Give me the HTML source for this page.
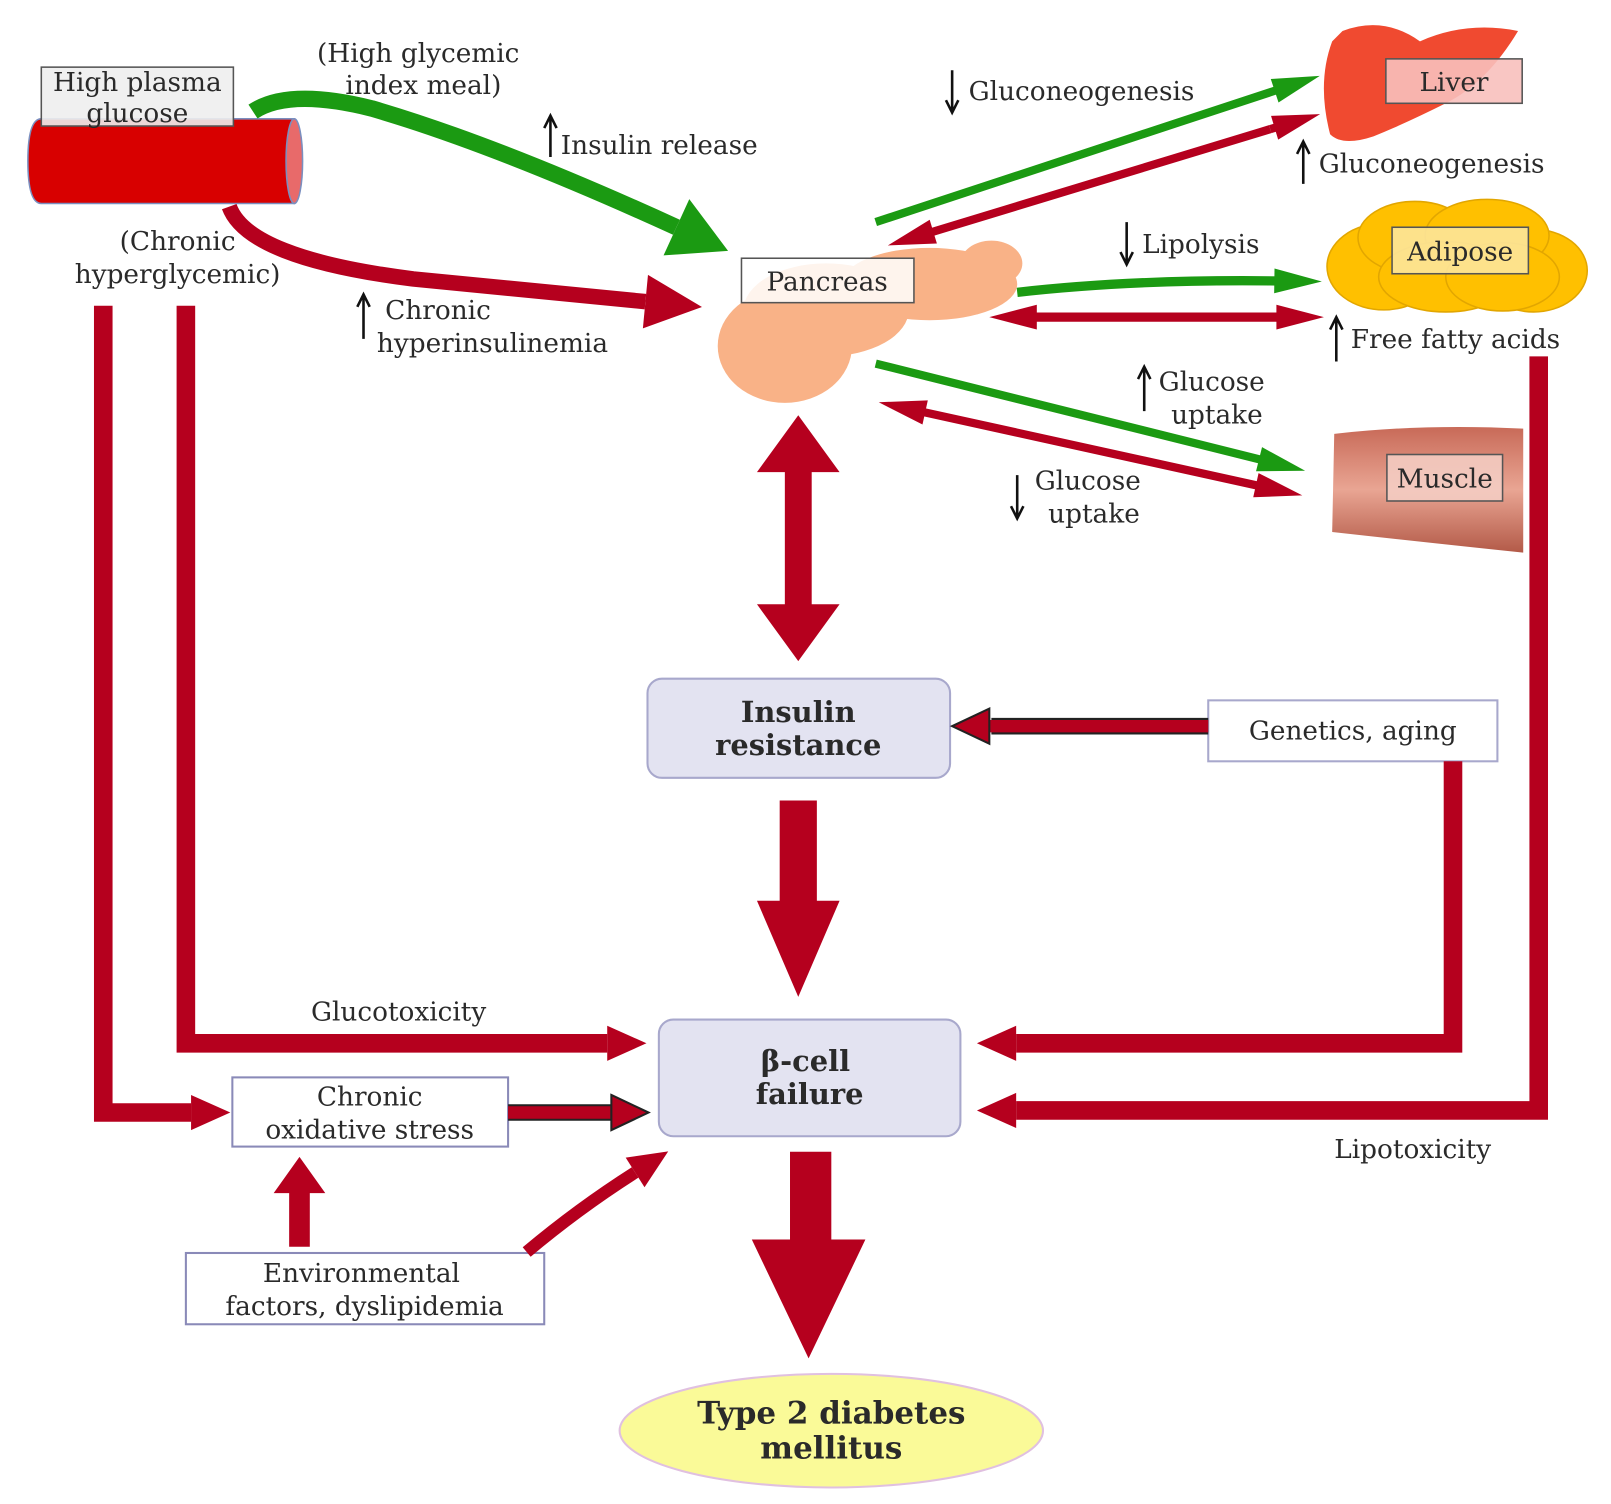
<!DOCTYPE html>
<html><head><meta charset="utf-8"><style>
html,body{margin:0;padding:0;background:#fff;}
svg{display:block;}
text{font-family:"DejaVu Serif","Liberation Serif",serif;fill:#2a2a2a;font-size:25.5px;}
</style></head><body>
<svg width="1611" height="1504" viewBox="0 0 1560 1456" preserveAspectRatio="none" xmlns="http://www.w3.org/2000/svg">
<defs>
<marker id="gBig" markerUnits="userSpaceOnUse" markerWidth="10" markerHeight="10" orient="auto" overflow="visible"><path d="M0,-30 L55,0 L0,30 z" fill="#1b9a12"/></marker>
<marker id="rBig" markerUnits="userSpaceOnUse" markerWidth="10" markerHeight="10" orient="auto" overflow="visible"><path d="M0,-26 L55,0 L0,26 z" fill="#b5001e"/></marker>
<marker id="gS" markerUnits="userSpaceOnUse" markerWidth="10" markerHeight="10" orient="auto" overflow="visible"><path d="M-6,-12 L40,0 L-6,12 z" fill="#1b9a12"/></marker>
<marker id="rS" markerUnits="userSpaceOnUse" markerWidth="10" markerHeight="10" orient="auto-start-reverse" overflow="visible"><path d="M-6,-12 L40,0 L-6,12 z" fill="#b5001e"/></marker>
<marker id="rM" markerUnits="userSpaceOnUse" markerWidth="10" markerHeight="10" orient="auto" overflow="visible"><path d="M0,-17 L38,0 L0,17 z" fill="#b5001e"/></marker>
<marker id="rO" markerUnits="userSpaceOnUse" markerWidth="10" markerHeight="10" orient="auto" overflow="visible"><path d="M0,-17 L36,0 L0,17 z" fill="#b5001e" stroke="#222" stroke-width="2"/></marker>
<linearGradient id="mus" x1="0" y1="0" x2="0" y2="1"><stop offset="0" stop-color="#c86a58"/><stop offset="0.5" stop-color="#e9a593"/><stop offset="1" stop-color="#b35a48"/></linearGradient>
</defs>

<path d="M40,115 L285,115 L285,197 L40,197 Q27,197 27,156 Q27,115 40,115 z" fill="#d80000" stroke="#7a8fc0" stroke-width="1.5"/>
<ellipse cx="285" cy="156" rx="8" ry="41" fill="#e86a6a" stroke="#7a8fc0" stroke-width="1.5"/>
<rect x="40" y="65" width="186" height="57" fill="#eeeeee" fill-opacity="0.9" stroke="#555" stroke-width="1.5"/>
<text x="133" y="88" text-anchor="middle">High plasma</text>
<text x="133" y="118" text-anchor="middle">glucose</text>

<text x="405" y="60" text-anchor="middle">(High glycemic</text>
<text x="410" y="91" text-anchor="middle">index meal)</text>
<text x="172" y="242" text-anchor="middle">(Chronic</text>
<text x="172" y="274" text-anchor="middle">hyperglycemic)</text>

<path d="M245,108 Q280,85 360,105 Q480,140 655,220" fill="none" stroke="#1b9a12" stroke-width="16" marker-end="url(#gBig)"/>
<path d="M222,200 Q240,250 400,270 Q520,282 625,292" fill="none" stroke="#b5001e" stroke-width="15" marker-end="url(#rBig)"/>
<path d="M533,152 L533,115 M527,124 L533,112 L539,124" stroke="#111" stroke-width="2.5" fill="none"/>
<text x="543" y="149">Insulin release</text>
<path d="M352,328 L352,288 M346,297 L352,285 L358,297" stroke="#111" stroke-width="2.5" fill="none"/>
<text x="373" y="309">Chronic</text>
<text x="365" y="341">hyperinsulinemia</text>

<g fill="#f9b287">
<ellipse cx="760" cy="335" rx="65" ry="55"/>
<ellipse cx="800" cy="300" rx="80" ry="45"/>
<ellipse cx="900" cy="275" rx="85" ry="35"/>
<ellipse cx="960" cy="255" rx="30" ry="22"/>
</g>
<rect x="718" y="250" width="167" height="43" fill="#fff" fill-opacity="0.85" stroke="#555" stroke-width="1.5"/>
<text x="801" y="281" text-anchor="middle">Pancreas</text>

<path d="M1300,30 Q1340,15 1375,40 Q1420,20 1470,30 Q1440,80 1400,100 Q1360,120 1330,132 Q1300,142 1288,130 Q1275,80 1290,40 z" fill="#f04a30"/>
<rect x="1342" y="57" width="132" height="43" fill="#f8c0bc" fill-opacity="0.9" stroke="#555" stroke-width="1.5"/>
<text x="1408" y="88" text-anchor="middle">Liver</text>
<line x1="848" y1="215" x2="1240" y2="86" stroke="#1b9a12" stroke-width="8" marker-end="url(#gS)"/>
<line x1="1230" y1="125" x2="898" y2="226" stroke="#b5001e" stroke-width="8" marker-end="url(#rS)"/>
<line x1="1230" y1="125" x2="1240" y2="122" stroke="#b5001e" stroke-width="8" marker-end="url(#rS)"/>
<path d="M922,106 L922,68 M916,97 L922,109 L928,97" stroke="#111" stroke-width="2.5" fill="none"/>
<text x="938" y="97">Gluconeogenesis</text>
<path d="M1262,178 L1262,140 M1256,149 L1262,137 L1268,149" stroke="#111" stroke-width="2.5" fill="none"/>
<text x="1277" y="167">Gluconeogenesis</text>

<g fill="#ffc000" stroke="#e2a600" stroke-width="1.5">
<ellipse cx="1340" cy="258" rx="55" ry="42"/>
<ellipse cx="1485" cy="262" rx="52" ry="40"/>
<ellipse cx="1370" cy="230" rx="55" ry="35"/>
<ellipse cx="1440" cy="228" rx="60" ry="35"/>
<ellipse cx="1400" cy="268" rx="65" ry="34"/>
<ellipse cx="1455" cy="268" rx="55" ry="33"/>
</g>
<rect x="1348" y="220" width="132" height="45" fill="#fde59a" fill-opacity="0.9" stroke="#555" stroke-width="1.5"/>
<text x="1414" y="252" text-anchor="middle">Adipose</text>
<path d="M985,283 Q1100,270 1240,272" fill="none" stroke="#1b9a12" stroke-width="9" marker-end="url(#gS)"/>
<line x1="998" y1="307" x2="1242" y2="307" stroke="#b5001e" stroke-width="9" marker-start="url(#rS)" marker-end="url(#rS)"/>
<path d="M1091,253 L1091,215 M1085,244 L1091,256 L1097,244" stroke="#111" stroke-width="2.5" fill="none"/>
<text x="1106" y="245">Lipolysis</text>
<path d="M1294,350 L1294,310 M1288,319 L1294,307 L1300,319" stroke="#111" stroke-width="2.5" fill="none"/>
<text x="1308" y="337">Free fatty acids</text>

<path d="M1292,420 Q1380,410 1475,415 L1475,535 Q1380,525 1290,515 z" fill="url(#mus)"/>
<rect x="1343" y="440" width="112" height="45" fill="#f4cfc6" fill-opacity="0.85" stroke="#555" stroke-width="1.5"/>
<text x="1399" y="472" text-anchor="middle">Muscle</text>
<line x1="848" y1="352" x2="1225" y2="446" stroke="#1b9a12" stroke-width="8" marker-end="url(#gS)"/>
<line x1="890" y1="398" x2="1222" y2="471" stroke="#b5001e" stroke-width="8" marker-start="url(#rS)" marker-end="url(#rS)"/>
<path d="M1108,398 L1108,358 M1102,367 L1108,355 L1114,367" stroke="#111" stroke-width="2.5" fill="none"/>
<text x="1122" y="378">Glucose</text>
<text x="1134" y="410">uptake</text>
<path d="M985,500 L985,460 M979,490 L985,502 L991,490" stroke="#111" stroke-width="2.5" fill="none"/>
<text x="1002" y="474">Glucose</text>
<text x="1015" y="506">uptake</text>

<path d="M773,402 L813,457 L786,457 L786,585 L813,585 L773,640 L733,585 L760,585 L760,457 L733,457 z" fill="#b5001e"/>

<rect x="627" y="657" width="293" height="96" rx="14" fill="#e3e3f1" stroke="#a8a8cc" stroke-width="2"/>
<text x="773" y="699" font-weight="bold" text-anchor="middle" style="font-size:28px">Insulin</text>
<text x="773" y="731" font-weight="bold" text-anchor="middle" style="font-size:28px">resistance</text>

<rect x="1170" y="678" width="280" height="59" fill="#fff" stroke="#a8a8cc" stroke-width="2"/>
<text x="1310" y="716" text-anchor="middle">Genetics, aging</text>
<line x1="1170" y1="703" x2="960" y2="703" stroke="#222" stroke-width="16"/>
<line x1="1170" y1="703" x2="958" y2="703" stroke="#b5001e" stroke-width="12" marker-end="url(#rO)"/>

<path d="M755,775 L791,775 L791,872 L813,872 L773,965 L733,872 L755,872 z" fill="#b5001e"/>

<rect x="638" y="987" width="292" height="113" rx="14" fill="#e3e3f1" stroke="#a8a8cc" stroke-width="2"/>
<text x="780" y="1037" font-weight="bold" text-anchor="middle" style="font-size:28px">β-cell</text>
<text x="784" y="1069" font-weight="bold" text-anchor="middle" style="font-size:28px">failure</text>

<path d="M180,296 L180,1010 L588,1010" fill="none" stroke="#b5001e" stroke-width="18" marker-end="url(#rM)"/>
<path d="M100,296 L100,1077 L185,1077" fill="none" stroke="#b5001e" stroke-width="18" marker-end="url(#rM)"/>
<text x="386" y="988" text-anchor="middle">Glucotoxicity</text>

<rect x="225" y="1043" width="267" height="67" fill="#fff" stroke="#8a8ab8" stroke-width="2"/>
<text x="358" y="1070" text-anchor="middle">Chronic</text>
<text x="358" y="1102" text-anchor="middle">oxidative stress</text>
<line x1="492" y1="1077" x2="592" y2="1077" stroke="#222" stroke-width="16"/>
<line x1="492" y1="1077" x2="592" y2="1077" stroke="#b5001e" stroke-width="12" marker-end="url(#rO)"/>

<rect x="180" y="1213" width="347" height="69" fill="#fff" stroke="#8a8ab8" stroke-width="2"/>
<text x="350" y="1241" text-anchor="middle">Environmental</text>
<text x="353" y="1273" text-anchor="middle">factors, dyslipidemia</text>
<path d="M280,1207 L300,1207 L300,1155 L315,1155 L290,1120 L265,1155 L280,1155 z" fill="#b5001e"/>
<path d="M510,1212 Q560,1170 615,1135" fill="none" stroke="#b5001e" stroke-width="12" marker-end="url(#rM)"/>

<path d="M1407,737 L1407,1010 L984,1010" fill="none" stroke="#b5001e" stroke-width="18" marker-end="url(#rM)"/>
<path d="M1490,345 L1490,1075 L984,1075" fill="none" stroke="#b5001e" stroke-width="18" marker-end="url(#rM)"/>
<text x="1368" y="1121" text-anchor="middle">Lipotoxicity</text>

<path d="M765,1115 L805,1115 L805,1200 L838,1200 L783,1315 L728,1200 L765,1200 z" fill="#b5001e"/>

<ellipse cx="805" cy="1385" rx="205" ry="55" fill="#fafa98" stroke="#e0c0e0" stroke-width="2"/>
<text x="805" y="1378" font-weight="bold" text-anchor="middle" style="font-size:30px">Type 2 diabetes</text>
<text x="805" y="1412" font-weight="bold" text-anchor="middle" style="font-size:30px">mellitus</text>
</svg>
</body></html>
